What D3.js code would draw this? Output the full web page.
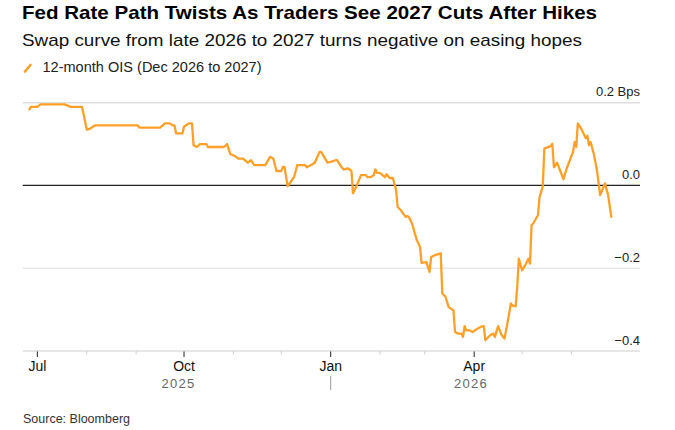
<!DOCTYPE html>
<html>
<head>
<meta charset="utf-8">
<script src="https://cdn.jsdelivr.net/npm/d3@7"></script>
<style>
  body { margin: 0; background: #fff; }
  svg { display: block; font-family: "Liberation Sans", Arial, sans-serif; }
</style>
</head>
<body>
<div id="chart"></div>
<script>
// data
var dates = [
  "2025-06-26","2025-06-27","2025-07-01","2025-07-03","2025-07-18","2025-07-22","2025-07-29","2025-08-01","2025-08-03","2025-08-06",
  "2025-09-02","2025-09-03","2025-09-16","2025-09-19","2025-09-22","2025-09-24","2025-09-25","2025-09-26","2025-09-30","2025-10-01",
  "2025-10-04","2025-10-06","2025-10-07","2025-10-09","2025-10-11","2025-10-15","2025-10-16","2025-10-26","2025-10-28","2025-10-30",
  "2025-11-02","2025-11-04","2025-11-07","2025-11-10","2025-11-12","2025-11-14","2025-11-21","2025-11-24","2025-11-26","2025-11-28",
  "2025-12-01","2025-12-02","2025-12-03","2025-12-05","2025-12-08","2025-12-09","2025-12-11","2025-12-16","2025-12-17","2025-12-20",
  "2025-12-22","2025-12-25","2025-12-26","2025-12-30","2026-01-01","2026-01-04","2026-01-05","2026-01-07","2026-01-09","2026-01-12",
  "2026-01-14","2026-01-15","2026-01-17","2026-01-20","2026-01-23","2026-01-24","2026-01-26","2026-01-28","2026-01-29","2026-01-30",
  "2026-02-01","2026-02-04","2026-02-05","2026-02-07","2026-02-09","2026-02-11","2026-02-12","2026-02-14","2026-02-17","2026-02-18",
  "2026-02-19","2026-02-21","2026-02-24","2026-02-26","2026-02-27","2026-03-02","2026-03-04","2026-03-05","2026-03-07","2026-03-11",
  "2026-03-12","2026-03-14","2026-03-16","2026-03-19","2026-03-20","2026-03-22","2026-03-24","2026-03-25","2026-03-26","2026-03-27",
  "2026-03-29","2026-03-31","2026-04-03","2026-04-06","2026-04-07","2026-04-08","2026-04-11","2026-04-13","2026-04-14","2026-04-16",
  "2026-04-18","2026-04-20","2026-04-22","2026-04-24","2026-04-25","2026-04-27","2026-04-28","2026-04-29","2026-05-01","2026-05-03",
  "2026-05-05","2026-05-06","2026-05-07","2026-05-08","2026-05-11","2026-05-12","2026-05-14","2026-05-15","2026-05-19","2026-05-20",
  "2026-05-21","2026-05-23","2026-05-27","2026-05-29","2026-06-02","2026-06-03","2026-06-04","2026-06-05","2026-06-07","2026-06-10",
  "2026-06-11","2026-06-12","2026-06-13","2026-06-15","2026-06-17","2026-06-19","2026-06-21","2026-06-22","2026-06-24","2026-06-26"
];
var ois = [
  0.184, 0.19, 0.19, 0.196, 0.196, 0.19, 0.19, 0.135, 0.137, 0.145,
  0.145, 0.14, 0.14, 0.15, 0.15, 0.145, 0.145, 0.126, 0.126, 0.142,
  0.15, 0.15, 0.097, 0.093, 0.1, 0.1, 0.093, 0.093, 0.1, 0.076,
  0.071, 0.065, 0.065, 0.055, 0.061, 0.049, 0.049, 0.069, 0.065, 0.035,
  0.035, 0.045, 0.045, -0.002, 0.015, 0.02, 0.049, 0.049, 0.044, 0.05,
  0.055, 0.081, 0.081, 0.055, 0.057, 0.061, 0.061, 0.049, 0.039, 0.041,
  0.035, -0.019, -0.003, 0.025, 0.025, 0.02, 0.02, 0.025, 0.039, 0.031,
  0.03, 0.02, 0.027, 0.018, 0.018, -0.011, -0.052, -0.06, -0.076, -0.074,
  -0.076, -0.092, -0.132, -0.148, -0.187, -0.185, -0.209, -0.173, -0.169, -0.164,
  -0.261, -0.269, -0.294, -0.302, -0.354, -0.358, -0.358, -0.366, -0.34, -0.35,
  -0.35, -0.354, -0.346, -0.34, -0.34, -0.374, -0.362, -0.358, -0.366, -0.34,
  -0.36, -0.37, -0.33, -0.285, -0.29, -0.292, -0.245, -0.177, -0.205, -0.193,
  -0.177, -0.189, -0.096, -0.092, -0.072, -0.028, -0.003, 0.089, 0.095, 0.101,
  0.044, 0.055, 0.015, 0.041, 0.081, 0.105, 0.093, 0.15, 0.138, 0.114,
  0.12, 0.097, 0.105, 0.077, 0.037, -0.023, -0.005, 0.005, -0.023, -0.076
];
var yTicks = [-0.4, -0.2, 0, 0.2];
var yUnit = " Bps";
var seriesName = "12-month OIS (Dec 2026 to 2027)";
var title = "Fed Rate Path Twists As Traders See 2027 Cuts After Hikes";
var subtitle = "Swap curve from late 2026 to 2027 turns negative on easing hopes";
var source = "Source: Bloomberg";

var W = 675, H = 430;
var lineColor = "#ffa029";
var parse = d3.timeParse("%Y-%m-%d");
var data = dates.map(function(d, i) { return {date: parse(d), v: ois[i]}; });

var svg = d3.select("#chart").append("svg").attr("width", W).attr("height", H);

// 标题 (the reference face is wider than Liberation Sans, so stretch to its width)
svg.append("text").attr("x", 22).attr("y", 19.3)
  .attr("font-size", 18.6).attr("font-weight", "bold").attr("fill", "#000")
  .attr("textLength", 575).attr("lengthAdjust", "spacingAndGlyphs").text(title);
svg.append("text").attr("x", 22).attr("y", 45.5)
  .attr("font-size", 17).attr("fill", "#111")
  .attr("textLength", 560).attr("lengthAdjust", "spacingAndGlyphs").text(subtitle);

// legend
svg.append("line").attr("x1", 25).attr("y1", 71.5).attr("x2", 30.5).attr("y2", 65)
  .attr("stroke", lineColor).attr("stroke-width", 2.6).attr("stroke-linecap", "round");
svg.append("text").attr("x", 42.5).attr("y", 71.5).attr("font-size", 14).attr("fill", "#222")
  .attr("textLength", 219).attr("lengthAdjust", "spacingAndGlyphs").text(seriesName);

var x = d3.scaleTime()
  .domain([new Date(2025, 5, 21), new Date(2026, 6, 14)])
  .range([21.4, 640]);
var y = d3.scaleLinear().domain([-0.4, 0.2]).range([351, 102.7]);

// gridlines
svg.append("g").selectAll("line").data(yTicks).join("line")
  .attr("x1", 22.7).attr("x2", 640)
  .attr("y1", function(d) { return y(d); }).attr("y2", function(d) { return y(d); })
  .attr("stroke", function(d) { return d === 0 ? "#222" : "#dedede"; })
  .attr("stroke-width", function(d) { return d === 0 ? 1.2 : (d === -0.2 ? 1 : 1.6); });

svg.append("g").selectAll("text").data(yTicks).join("text")
  .attr("x", 640).attr("y", function(d) { return y(d) - 6.5; })
  .attr("text-anchor", "end").attr("font-size", 13).attr("fill", "#222")
  .text(function(d) { return d3.format(".1f")(d) + (d === 0.2 ? yUnit : ""); });

// x ticks
var ext = d3.extent(data, function(d) { return d.date; });
var months = d3.timeMonth.range(d3.timeMonth.ceil(ext[0]), ext[1]);
var majors = months.filter(function(m) { return m.getMonth() % 3 === 0; });
var minors = months.filter(function(m) { return m.getMonth() % 3 !== 0; });

svg.append("g").selectAll("line").data(minors).join("line")
  .attr("x1", function(d) { return x(d); }).attr("x2", function(d) { return x(d); })
  .attr("y1", 351).attr("y2", 354.5).attr("stroke", "#cfcfcf").attr("stroke-width", 1);
svg.append("g").selectAll("line").data(majors).join("line")
  .attr("x1", function(d) { return x(d); }).attr("x2", function(d) { return x(d); })
  .attr("y1", 351.5).attr("y2", 357).attr("stroke", "#222").attr("stroke-width", 1);
svg.append("g").selectAll("text").data(majors).join("text")
  .attr("x", function(d) { return x(d); }).attr("y", 371)
  .attr("text-anchor", "middle").attr("font-size", 14).attr("fill", "#111")
  .text(d3.timeFormat("%b"));

// year labels, centred on the data within each year
var years = d3.groups(data, function(d) { return d.date.getFullYear(); });
svg.append("g").selectAll("text").data(years).join("text")
  .attr("x", function(g) {
    var e = d3.extent(g[1], function(d) { return x(d.date); });
    return (e[0] + e[1]) / 2;
  })
  .attr("y", 387.5).attr("text-anchor", "middle").attr("font-size", 13)
  .attr("letter-spacing", 1.3).attr("fill", "#666")
  .text(function(g) { return g[0]; });
var yearBreaks = d3.timeYear.range(d3.timeYear.ceil(ext[0]), ext[1]);
svg.append("g").selectAll("line").data(yearBreaks).join("line")
  .attr("x1", function(d) { return x(d); }).attr("x2", function(d) { return x(d); })
  .attr("y1", 376).attr("y2", 390).attr("stroke", "#999").attr("stroke-width", 1);

// the series
var line = d3.line().x(function(d) { return x(d.date); }).y(function(d) { return y(d.v); });
svg.append("path").datum(data).attr("d", line)
  .attr("fill", "none").attr("stroke", lineColor).attr("stroke-width", 2.3)
  .attr("stroke-linejoin", "round").attr("stroke-linecap", "round");

svg.append("text").attr("x", 23).attr("y", 423.3).attr("font-size", 12.5).attr("fill", "#333").text(source);
</script>
</body>
</html>
